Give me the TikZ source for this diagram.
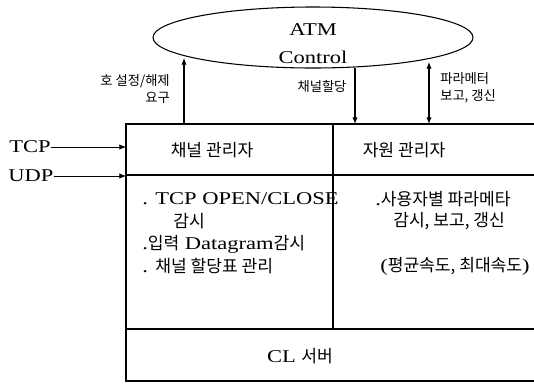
\documentclass[tikz,border=0pt]{standalone}
\usepackage{fontspec}
\setmainfont[FakeStretch=1.25]{Liberation Serif}
\newfontfamily\krfont[Scale=0.95]{Noto Sans CJK KR}
\newcommand\ko[1]{{\krfont #1}}
\usetikzlibrary{positioning,shapes.geometric,arrows.meta}

\tikzset{
    cell/.style={draw, line width=0.8pt, anchor=north west, inner sep=0pt, outer sep=0pt},
    txt/.style={inner sep=0pt, font=\fontsize{13.5}{16}\selectfont},
    note/.style={inner sep=0pt, font=\fontsize{10.5}{12.75}\selectfont},
    sig/.style={-{Latex[length=5pt,width=4pt]}, line width=0.8pt},
    dsig/.style={{Latex[length=5pt,width=4pt]}-{Latex[length=5pt,width=4pt]}, line width=0.8pt},
    inp/.style={-{Latex[length=5pt,width=4pt]}, line width=0.5pt}
}

\begin{document}
\begin{tikzpicture}[x=0.75pt,y=-0.75pt]
\useasboundingbox (0,0) rectangle (534,383);

% ATM 제어
\node[draw, ellipse, line width=0.8pt, minimum width=240pt, minimum height=45.75pt] (atm) at (313,37.5) {};
\node[txt, align=center, font=\fontsize{13.5}{21}\selectfont] (atmtxt) at (313,44) {ATM\\Control};

% 칸
\node[cell, minimum width=155.25pt, minimum height=38.25pt] (chan) at (126,124) {};
\node[cell, minimum width=157.5pt, minimum height=38.25pt] (res) at (333,124) {};
\node[cell, minimum width=155.25pt, minimum height=115.5pt] (chanbd) at (126,175) {};
\node[cell, minimum width=157.5pt, minimum height=115.5pt] (resbd) at (333,175) {};
\node[cell, minimum width=312.75pt, minimum height=39pt] (srv) at (126,329) {};

% 제목
\node[txt] (chanlbl) at (212,150) {\ko{채널 관리자}};
\node[txt] (reslbl) at (404,150) {\ko{자원 관리자}};
\node[txt] (srvlbl) at (300,356) {CL \ko{서버}};

% 내용
\node[txt, anchor=west] (c1) at (142,199) {. TCP OPEN/CLOSE};
\node[txt, anchor=west] (c2) at (173,221) {\ko{감시}};
\node[txt, anchor=west] (c3) at (142,244) {.\ko{입력} Datagram\ko{감시}};
\node[txt, anchor=west] (c4) at (142,266) {. \ko{채널 할당표 관리}};
\node[txt, anchor=west] (r1) at (375,199) {.\ko{사용자별 파라메타}};
\node[txt, anchor=west] (r2) at (393,221) {\ko{감시, 보고, 갱신}};
\node[txt, anchor=west] (r3) at (380,266) {(\ko{평균속도, 최대속도})};

% 입력
\node[txt] (tcp) at (30,147) {TCP};
\node[txt] (udp) at (31,176) {UDP};
\draw[inp] (tcp.east) -- (tcp -| chan.west);
\draw[inp] (udp.east) -- (udp -| chan.west);

% 신호
\coordinate (req) at (184,58);
\coordinate (alc) at (355,68);
\coordinate (par) at (429,62);
\draw[sig] (req |- chan.north) -- (req);
\draw[sig] (alc) -- (alc |- res.north);
\draw[dsig] (par) -- (par |- res.north);

\node[note, anchor=east, align=right] (reqlbl) at (170,89) {\ko{호 설정/해제}\\\ko{요구}};
\node[note] (alclbl) at (322,86) {\ko{채널할당}};
\node[note, anchor=west, align=left] (parlbl) at (440,88) {\ko{파라메터}\\\ko{보고, 갱신}};

\end{tikzpicture}
\end{document}
